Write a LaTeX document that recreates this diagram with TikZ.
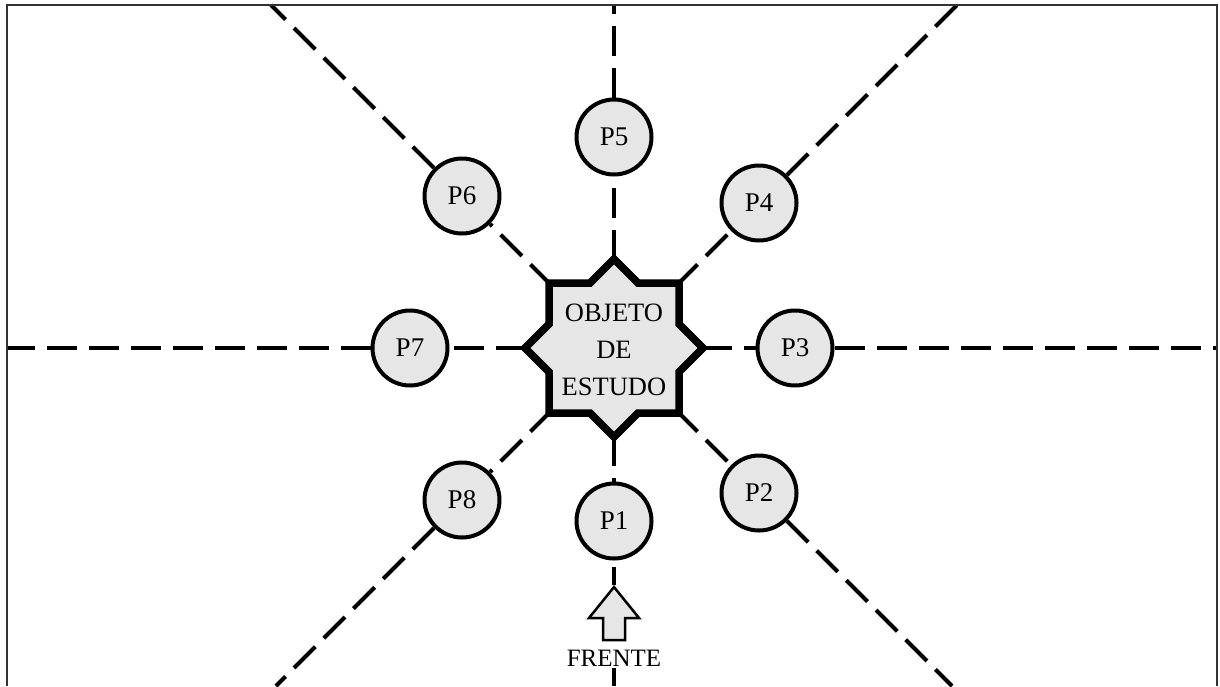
\documentclass[tikz,border=0pt]{standalone}
\usepackage{fontspec}
\setmainfont{Liberation Serif}
\usetikzlibrary{backgrounds}
\definecolor{shade}{HTML}{E6E6E6}
\definecolor{frame}{HTML}{333333}
\begin{document}
\begin{tikzpicture}[x=1pt,y=-1pt,
  ray/.style={line width=4pt, dash pattern=on 30pt off 12pt},
  post/.style={circle, draw, line width=4pt, fill=shade, minimum size=75pt,
    inner sep=0pt, font=\fontsize{27}{32}\selectfont},
  label/.style={font=\fontsize{26.5}{37}\selectfont, align=center, inner sep=1pt},
]
\useasboundingbox (0,0) rectangle (1220,686);

% outer frame (open at the bottom)
\draw[line width=2pt, frame] (7,686) -- (7,5) -- (1217,5) -- (1217,686);

% ends of the eight sight lines
\coordinate (eN)  at (614,5);
\coordinate (eS)  at (614,686);
\coordinate (eE)  at (1217,348);
\coordinate (eW)  at (7,348);
\coordinate (eNE) at (957,5);
\coordinate (eNW) at (271,5);
\coordinate (eSE) at (952,686);
\coordinate (eSW) at (276,686);

% object under study
\node[circle, minimum size=176pt, inner sep=0pt] (obj) at (614,348) {};
\filldraw[fill=shade, line width=7.5pt, line join=miter, shift={(obj.center)}]
  (0,-89) -- (24,-65) -- (65,-65) -- (65,-24) -- (89,0) -- (65,24) -- (65,65)
  -- (24,65) -- (0,89) -- (-24,65) -- (-65,65) -- (-65,24) -- (-89,0)
  -- (-65,-24) -- (-65,-65) -- (-24,-65) -- cycle;
\node[label] (objtext) at (614,350) {OBJETO\\DE\\ESTUDO};

% observation points
\node[post] (P1) at (614,521) {P1};
\node[post] (P2) at (759,493) {P2};
\node[post] (P3) at (795,348) {P3};
\node[post] (P4) at (759,203) {P4};
\node[post] (P5) at (614,137) {P5};
\node[post] (P6) at (462,196) {P6};
\node[post] (P7) at (410,348) {P7};
\node[post] (P8) at (462,500) {P8};

% front marker
\coordinate (tip) at (614,587);
\filldraw[fill=shade, line width=2.5pt, line join=miter]
  (tip) -- (639,618) -- (625,618) -- (625,640) -- (603,640) -- (603,618)
  -- (589,618) -- cycle;
\node[font=\fontsize{25}{29}\selectfont, inner sep=2pt] (frente) at (614,658) {FRENTE};

% dashed sight lines behind everything
\begin{pgfonlayer}{background}
  \draw[ray] (obj) -- (P5); \draw[ray] (P5) -- (eN);
  \draw[ray] (obj) -- (P4); \draw[ray] (P4) -- (eNE);
  \draw[ray] (obj) -- (P3); \draw[ray] (P3) -- (eE);
  \draw[ray] (obj) -- (P2); \draw[ray] (P2) -- (eSE);
  \draw[ray] (obj) -- (P1);
  \draw[ray, dash pattern=on 0pt off 6pt on 18pt off 20pt] (P1) -- (tip);
  \draw[ray] (frente) -- (eS);
  \draw[ray] (obj) -- (P8); \draw[ray] (P8) -- (eSW);
  \draw[ray] (obj) -- (P7); \draw[ray] (P7) -- (eW);
  \draw[ray] (obj) -- (P6); \draw[ray] (P6) -- (eNW);
\end{pgfonlayer}
\end{tikzpicture}
\end{document}
